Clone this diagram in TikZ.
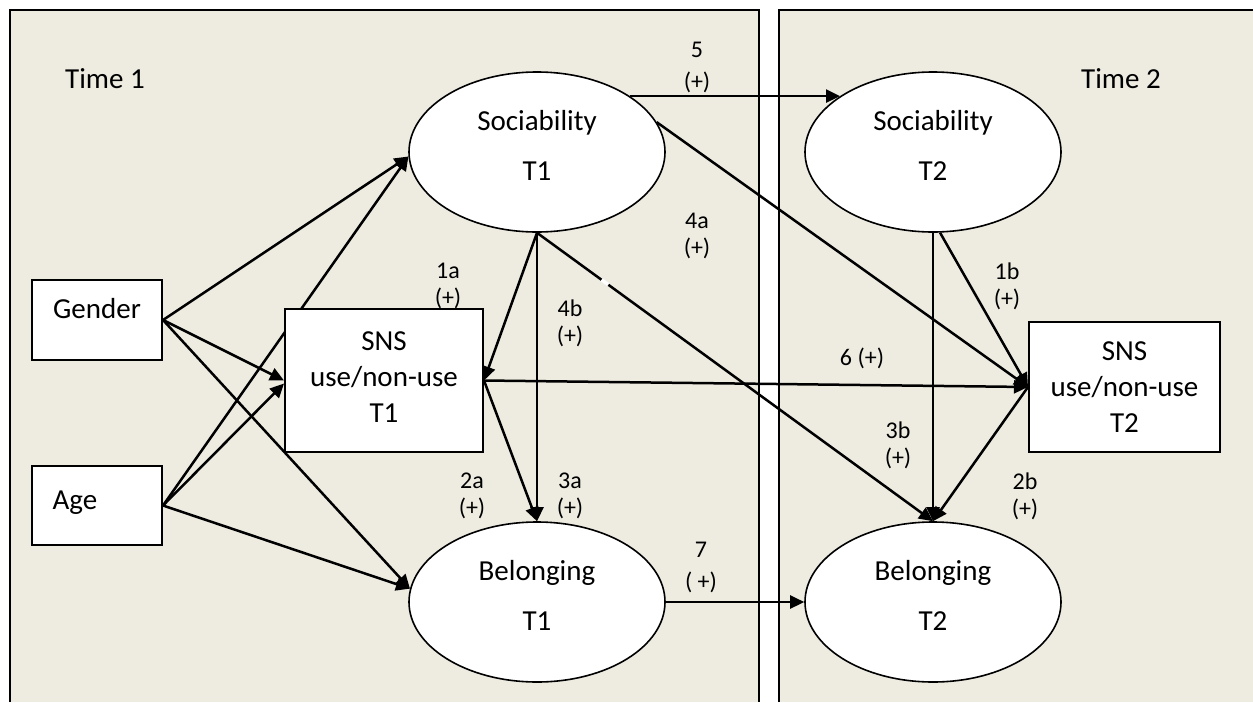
\documentclass[tikz,border=0pt]{standalone}
\usepackage{fontspec}
\setmainfont{Carlito}
\usetikzlibrary{arrows.meta,calc,shapes.geometric}
\definecolor{panelbg}{HTML}{EEECE1}
\pgfdeclarelayer{panels}
\pgfdeclarelayer{links}
\pgfsetlayers{panels,links,main}

\begin{document}
\begin{tikzpicture}[x=0.5pt,y=-0.5pt,
  box/.style={draw,line width=1pt,fill=white,inner sep=0pt},
  boxtext/.style={align=center,inner sep=0pt,font=\fontsize{14.5}{18}\selectfont},
  oval/.style={ellipse,draw,line width=0.8pt,fill=white,inner sep=0pt,
    minimum width=128pt,minimum height=80pt},
  txt/.style={font=\fontsize{14.5}{18}\selectfont,inner sep=0pt,anchor=base},
  lbl/.style={font=\fontsize{12}{13.5}\selectfont,align=center,inner sep=0pt},
  link/.style={line width=1.25pt,-{Triangle[length=7pt,width=6.5pt]}}]

\useasboundingbox (0,0) rectangle (1253,702);

% the two time panels
\begin{pgfonlayer}{panels}
  \fill[panelbg] (10,10) rectangle (759,702);
  \fill[panelbg] (779,10) rectangle (1253,702);
  \draw[line width=1pt] (10,702) -- (10,10) -- (759,10) -- (759,702);
  \draw[line width=1pt] (779,702) -- (779,10) -- (1253,10);
\end{pgfonlayer}

\node[txt] (t1) at (105,88) {Time 1};
\node[txt] (t2) at (1121,88) {Time 2};

% constructs
\node[oval] (soc1) at (537,152) {};
\node[oval] (soc2) at (933,152) {};
\node[oval] (bel1) at (537,602) {};
\node[oval] (bel2) at (933,602) {};

\node[txt] (soc1a) at (537,130) {Sociability};
\node[txt] (soc1b) at (537,180) {T1};
\node[txt] (soc2a) at (933,130) {Sociability};
\node[txt] (soc2b) at (933,180) {T2};
\node[txt] (bel1a) at (537,580) {Belonging};
\node[txt] (bel1b) at (537,630) {T1};
\node[txt] (bel2a) at (933,580) {Belonging};
\node[txt] (bel2b) at (933,630) {T2};

\node[box,minimum width=65pt,minimum height=40pt] (gender) at (97,320) {};
\node[box,minimum width=65pt,minimum height=39.5pt] (age) at (97,505.5) {};
\node[txt] (gendert) at (97,318) {Gender};
\node[txt] (aget) at (75,509) {Age};

\node[box,minimum width=99pt,minimum height=71.5pt] (sns1) at (384,380.5) {};
\node[boxtext] (sns1t) at (384,377) {SNS\\use/non-use\\T1};
\node[box,minimum width=95.5pt,minimum height=65pt] (sns2) at (1124.5,387) {};
\node[boxtext] (sns2t) at (1124.5,387) {SNS\\use/non-use\\T2};

% paths between constructs
\begin{pgfonlayer}{links}
  \draw[link] (gender.east) -- (soc1.182);
  \draw[link] (gender.east) -- (sns1.west);
  \draw[link] (gender.east) -- (bel1.174);
  \draw[link] (age.east) -- (soc1.182);
  \draw[link] (age.east) -- ([yshift=-1.5pt]sns1.west);
  \draw[link] (age.east) -- (bel1.174);
  \draw[link] (soc1.south) -- (sns1.east);
  \draw[link] (soc1.south) -- (bel1.north);
  \draw[link] (soc1.south) -- (bel2.north);
  \draw[link] (sns1.east) -- (bel1.north);
  \draw[link] (sns1.east) -- (sns2.west);
  \draw[link] (soc1.31) -- (soc2.149);
  \draw[link] (bel1.east) -- (bel2.west);
  \draw[link] (soc1.14) -- (sns2.west);
  \draw[link] (soc2.south) -- (bel2.north);
  \draw[link] (soc2.275) -- (sns2.west);
  \draw[link] (sns2.west) -- (bel2.north);
  % small break in the 3b path
  \path (soc1.south) -- (bel2.north) coordinate[pos=0.163] (gapA) coordinate[pos=0.18] (gapB);
  \draw[white,line width=1.8pt] (gapA) -- (gapB);
\end{pgfonlayer}

% path labels
\node[lbl] (l5)  at (697,67)  {5\\[2.5pt](+)};
\node[lbl] (l4a) at (697,236) {4a\\(+)};
\node[lbl] (l1a) at (448,286) {1a\\(+)};
\node[lbl] (l4b) at (570,323) {4b\\(+)};
\node[lbl] (l6)  at (862,358) {6 (+)};
\node[lbl] (l1b) at (1007,286) {1b\\(+)};
\node[lbl] (l3b) at (898,445) {3b\\(+)};
\node[lbl] (l2b) at (1025,496) {2b\\(+)};
\node[lbl] (l2a) at (472,496) {2a\\(+)};
\node[lbl] (l3a) at (570,496) {3a\\(+)};
\node[lbl] (l7)  at (701,567) {7\\[2.5pt]( +)};
\end{tikzpicture}
\end{document}
